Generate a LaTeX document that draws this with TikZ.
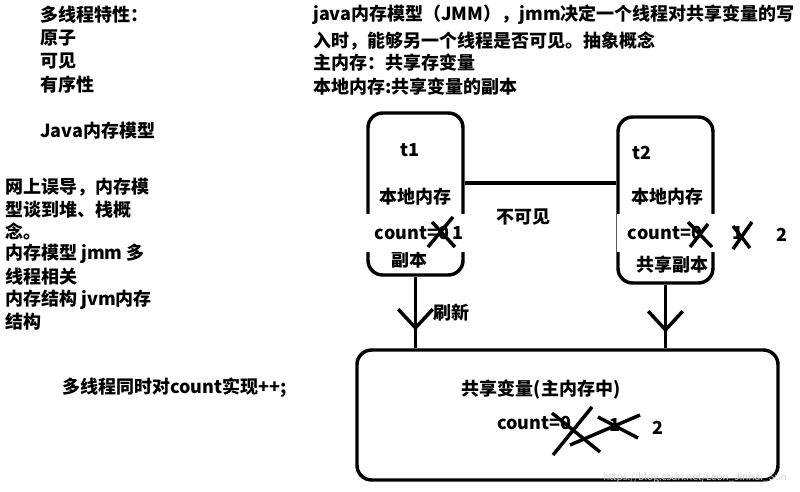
\documentclass[tikz,border=0pt]{standalone}
\usepackage{fontspec}
\setmainfont{Noto Sans CJK SC}
\usetikzlibrary{arrows.meta,decorations.markings}

\begin{document}
\begin{tikzpicture}[x=0.75pt,y=-0.75pt,
    font=\fontsize{13.5}{16}\selectfont\bfseries,
    txt/.style={anchor=west,inner sep=0pt},
    box/.style={draw,line width=2.6pt,rounded corners=11pt},
    countbox/.style={fill=white,inner ysep=0pt,inner xsep=8pt,text width=62pt,minimum height=29pt,align=left,anchor=west},
    cross/.style={line width=2.6pt},
    flow/.style={line width=2.6pt,postaction={decorate},
        decoration={markings,mark=at position 0.75 with {\arrow{Straight Barb[length=14pt,width=26pt]}}}}]
    \useasboundingbox (0,0) rectangle (800,492);
    % 左侧文字
    \node[txt] (p1) at (40,15) {多线程特性：};
    \node[txt] (p2) at (40,38) {原子};
    \node[txt] (p3) at (40,61) {可见};
    \node[txt] (p4) at (40,85) {有序性};
    \node[txt] (p5) at (40,131) {Java内存模型};
    \node[txt] (q1) at (5,187) {网上误导，内存模};
    \node[txt] (q2) at (5,210) {型谈到堆、栈概};
    \node[txt] (q3) at (5,231) {念。};
    \node[txt] (q4) at (5,254) {内存模型 jmm 多};
    \node[txt] (q5) at (5,277) {线程相关};
    \node[txt] (q6) at (5,300) {内存结构 jvm内存};
    \node[txt] (q7) at (5,322) {结构};
    \node[txt] (q8) at (62,388) {多线程同时对count实现++;};
    % 右上文字
    \node[txt] (r1) at (313,15) {java内存模型（JMM），jmm决定一个线程对共享变量的写};
    \node[txt] (r2) at (313,41) {入时，能够另一个线程是否可见。抽象概念};
    \node[txt] (r3) at (313,63) {主内存：共享存变量};
    \node[txt] (r4) at (313,87) {本地内存:共享变量的副本};
    % 绘制方框
    \node[box,minimum width=71.25pt,minimum height=121.5pt] (t1) at (415.5,194) {};
    \node[box,minimum width=71.25pt,minimum height=124.5pt] (t2) at (665.5,200) {};
    \node[box,minimum width=315.75pt,minimum height=97.5pt] (main) at (567.5,415) {};
    % 绘制连线
    \draw[line width=2.6pt] (t1.east |- 0,183) -- (t2.west |- 0,183);
    \draw[flow] (t1.south) -- (t1.south |- main.north);
    \draw[flow] (t2.south) -- (t2.south |- main.north);
    % 方框内文字
    \node (t1name) at (410,150) {t1};
    \node (t1mem) at (415,197) {本地内存};
    \node (t1copy) at (409,260) {副本};
    \node (t2name) at (642,153) {t2};
    \node (t2mem) at (667,197) {本地内存};
    \node (t2copy) at (672,265) {共享副本};
    \node (hide) at (523,217) {不可见};
    \node (flush) at (451,313) {刷新};
    \node (share) at (541,390) {共享变量(主内存中)};
    \node[countbox] (c1) at (364,233) {count=0};
    \node[countbox] (c2) at (617,233) {count=0};
    \node[txt] (c3) at (497,423) {count=0};
    \node (n1) at (458,233) {1};
    \node (n2) at (738,233) {1};
    \node (n3) at (782,235) {2};
    \node (n4) at (615,425) {1};
    \node (n5) at (658,428) {2};
    % 绘制叉号
    \draw[cross] (428,247) -- (453,217);
    \draw[cross] (432,222) -- (455,247);
    \draw[cross] (688,222) -- (712,247);
    \draw[cross] (690,247) -- (708,224);
    \draw[cross] (733,249) -- (752,222);
    \draw[cross] (733,226) -- (750,248);
    \draw[cross] (553,455) -- (592,407);
    \draw[cross] (552,413) -- (600,452);
    \draw[cross] (570,445) -- (640,415);
    \draw[cross] (598,417) -- (638,438);
    % 水印
    \node[text=gray!35,font=\fontsize{7.5}{9}\selectfont] (mark) at (695,478) {https://blog.csdn.net/Leon\_Jinhai\_Sun};
\end{tikzpicture}
\end{document}
